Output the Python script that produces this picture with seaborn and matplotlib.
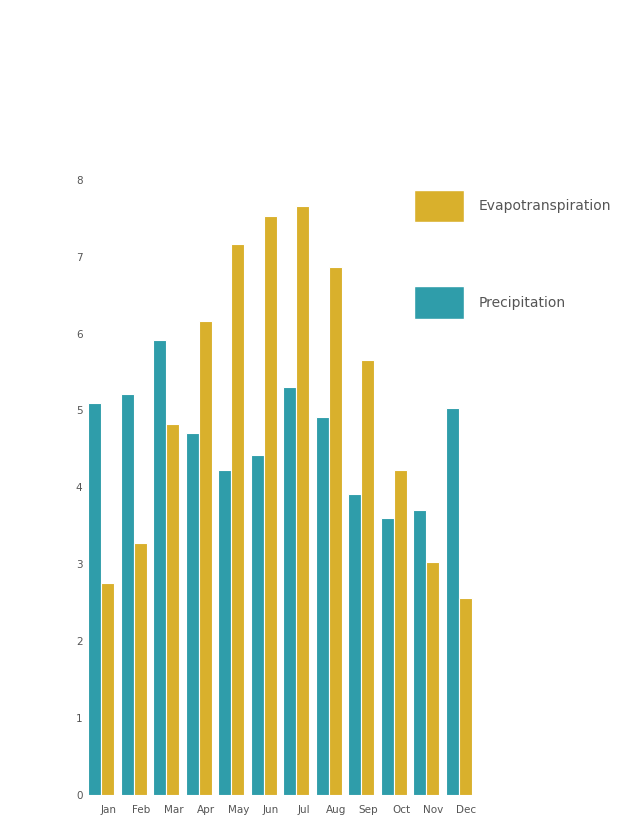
import matplotlib
matplotlib.use("Agg")
import matplotlib.pyplot as plt
import matplotlib.transforms as mtransforms
import seaborn as sns
import pandas as pd
from matplotlib.patches import Patch

months = ["Jan", "Feb", "Mar", "Apr", "May", "Jun", "Jul", "Aug", "Sep", "Oct", "Nov", "Dec"]
precipitation = [5.10, 5.22, 5.91, 4.71, 4.23, 4.42, 5.31, 4.92, 3.91, 3.60, 3.70, 5.03]
evapotranspiration = [2.75, 3.27, 4.83, 6.16, 7.17, 7.53, 7.66, 6.86, 5.66, 4.23, 3.03, 2.56]
y_ticks = [0, 1, 2, 3, 4, 5, 6, 7, 8]

df = pd.DataFrame({
    "Month": months * 2,
    "Value": precipitation + evapotranspiration,
    "Series": ["Precipitation"] * 12 + ["Evapotranspiration"] * 12,
})

sns.set_theme(style="white")
plt.rcParams["font.family"] = ["DejaVu Sans"]

fig = plt.figure(figsize=(6.22, 8.17), dpi=100)
ax = fig.add_axes([0.137, 0.027, 0.627, 0.753])

palette = {"Precipitation": "#2F9DAA", "Evapotranspiration": "#D9B02C"}
sns.barplot(data=df, x="Month", y="Value", hue="Series",
            hue_order=["Precipitation", "Evapotranspiration"],
            palette=palette, width=0.8, edgecolor="white", linewidth=0.8,
            saturation=1, ax=ax, legend=False)

ax.set_ylim(0, 8)
ax.set_yticks(y_ticks)
ax.set_xlim(-0.5, 11.5)
ax.set_xlabel("")
ax.set_ylabel("")
for s in ax.spines.values():
    s.set_visible(False)
ax.tick_params(axis="both", length=0, labelsize=7.5, labelcolor="#555555")
ax.tick_params(axis="y", pad=2)
ax.tick_params(axis="x", pad=7)
offset = mtransforms.ScaledTranslation(7 / 100, 0, fig.dpi_scale_trans)
for lab in ax.get_xticklabels():
    lab.set_transform(lab.get_transform() + offset)

handles = [Patch(facecolor=palette["Evapotranspiration"], label="Evapotranspiration"),
           Patch(facecolor=palette["Precipitation"], label="Precipitation")]
fig.legend(handles=handles, loc="upper left",
           bbox_to_anchor=(0.657, 1 - 184 / 817), frameon=False,
           fontsize=10, handlelength=3.55, handleheight=3.25,
           labelspacing=4.6, handletextpad=1.1, borderaxespad=0,
           labelcolor="#555555")

fig.savefig("out.png", dpi=100)
